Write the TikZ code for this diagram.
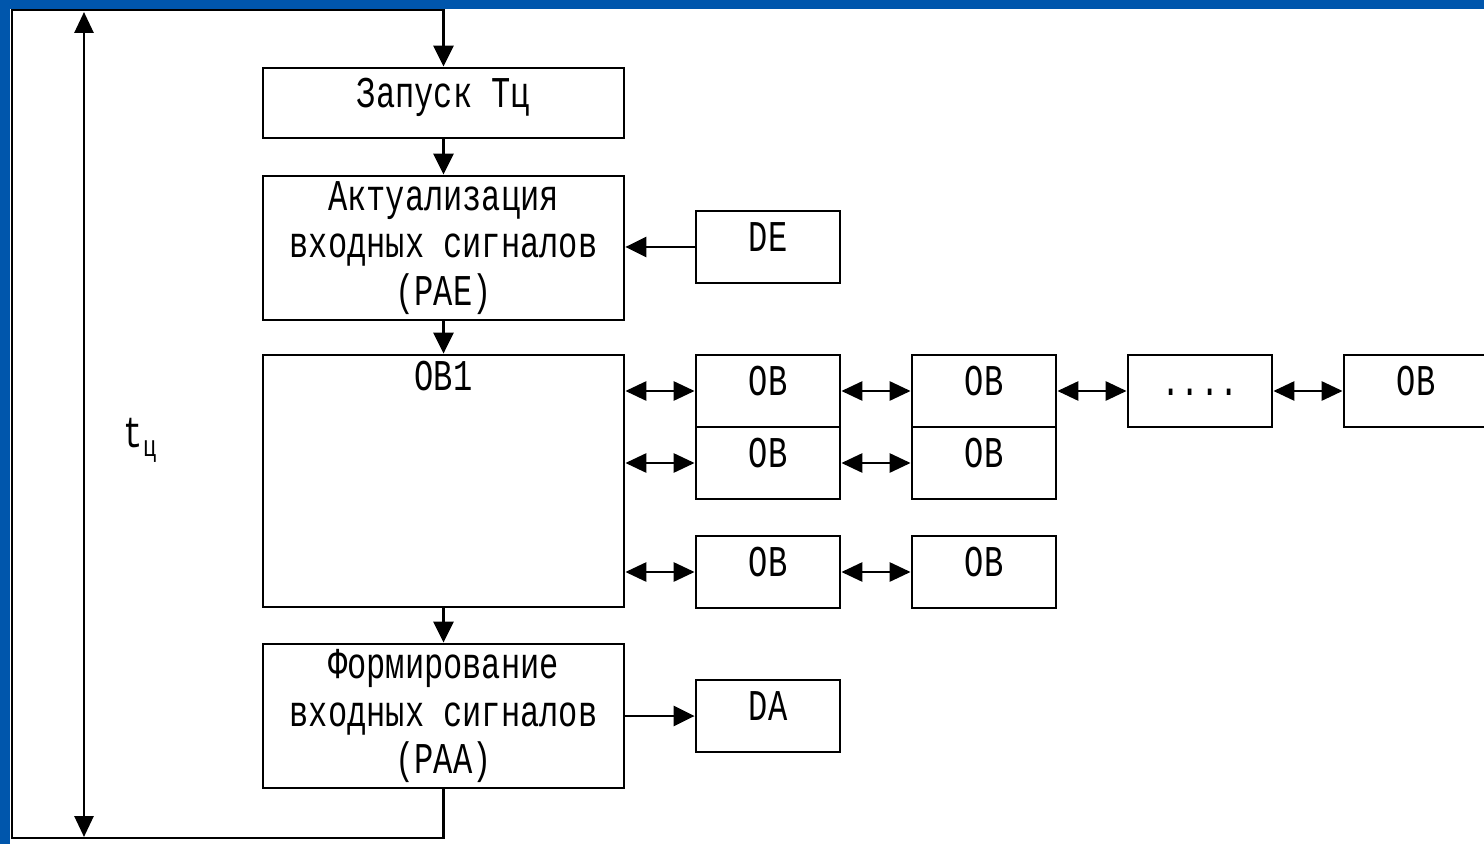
\documentclass[tikz,border=0pt]{standalone}
\usepackage{fontspec}
\setmainfont[FakeStretch=0.73]{Liberation Mono}
\usetikzlibrary{arrows.meta}
\definecolor{slideblue}{RGB}{0,86,172}

\begin{document}
\begin{tikzpicture}[x=0.02cm,y=-0.02cm,line width=1.6pt,
  font=\fontsize{25}{27}\selectfont,
  box/.style={draw,minimum width=7.22cm,minimum height=2.88cm,align=center,inner sep=0pt},
  small/.style={draw,minimum width=2.88cm,minimum height=1.44cm,inner sep=0pt,
    text height=0.5cm,text depth=0.32cm},
  tip/.style={-{Triangle[length=0.42cm,width=0.4cm]}},
  dtip/.style={{Triangle[length=0.42cm,width=0.38cm]}-{Triangle[length=0.42cm,width=0.38cm]}}]
\useasboundingbox (0,0) rectangle (1484,844);
\fill[slideblue] (0,0) rectangle (1484,844);
\fill[white] (10,9) rectangle (1484,844);

% main column
\node[box,minimum height=1.4cm,text height=0.5cm,text depth=0.32cm] (start) at (443.5,103) {Запуск Тц};
\node[box] (pae) at (443.5,248) {Актуализация\\входных сигналов\\(PAE)};
\node[box,minimum height=5.04cm,label={[below]north:ОВ1}] (ob1) at (443.5,481) {};
\node[box] (paa) at (443.5,716) {Формирование\\входных сигналов\\(PAA)};

\node[small] (de) at (768,247) {DE};
\node[small] (da) at (768,716) {DA};

% OB blocks
\node[small] (ob11) at (768,391) {ОВ};
\node[small] (ob12) at (984,391) {ОВ};
\node[small] (ob13) at (1200,391) {....};
\node[small] (ob14) at (1416,391) {ОВ};
\node[small] (ob21) at (768,463) {ОВ};
\node[small] (ob22) at (984,463) {ОВ};
\node[small] (ob31) at (768,572) {ОВ};
\node[small] (ob32) at (984,572) {ОВ};

\draw[tip] (start) -- (pae);
\draw[tip] (pae) -- (ob1);
\draw[tip] (ob1) -- (paa);
\draw[tip] (de.west) -- (de.west -| pae.east);
\draw[tip] (paa.east |- da.west) -- (da.west);

\draw[dtip] (ob11.west -| ob1.east) -- (ob11.west);
\draw[dtip] (ob21.west -| ob1.east) -- (ob21.west);
\draw[dtip] (ob31.west -| ob1.east) -- (ob31.west);
\draw[dtip] (ob11) -- (ob12);
\draw[dtip] (ob12) -- (ob13);
\draw[dtip] (ob13) -- (ob14);
\draw[dtip] (ob21) -- (ob22);
\draw[dtip] (ob31) -- (ob32);

% cycle loop
\coordinate (lb) at (12,838);
\coordinate (lt) at (12,10);
\draw[tip] (paa.south) |- (lb) -- (lt) -| (start.north);

\coordinate (tt) at (84,12);
\coordinate (tb) at (84,837);
\draw[dtip] (tt) -- (tb);
\node (tc) at (140,440) {t\raisebox{-5pt}{\fontsize{17}{17}\selectfont ц}};
\end{tikzpicture}
\end{document}
